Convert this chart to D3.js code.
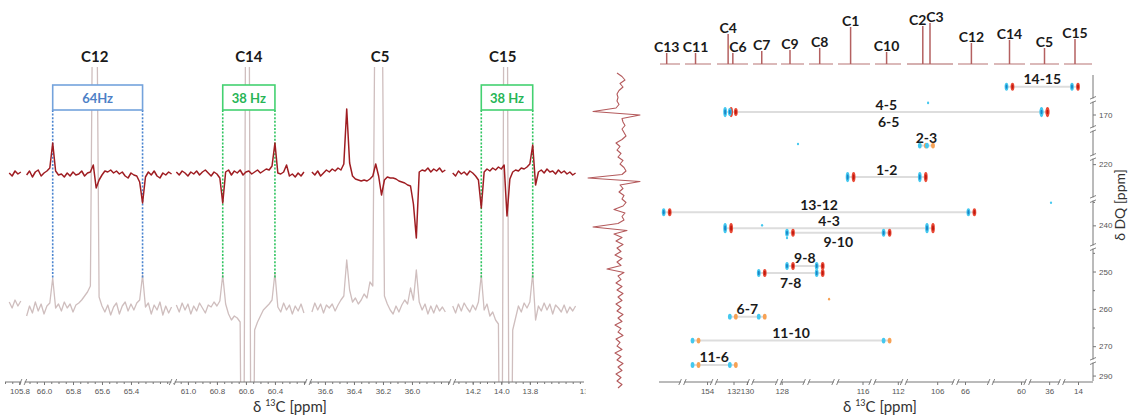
<!DOCTYPE html>
<html>
<head>
<meta charset="utf-8">
<title>13C INADEQUATE</title>
<script src="https://cdn.jsdelivr.net/npm/d3@7/dist/d3.min.js"></script>
<style>
  html, body { margin: 0; padding: 0; background: #fff; }
  svg { display: block; }
  text { font-family: Lato, "Open Sans", "Liberation Sans", sans-serif; }
  .tick text { font-size: 8px; fill: #555; font-family: "Liberation Sans", Arial, sans-serif; }
  .tick line { stroke: #777; }
</style>
</head>
<body>
<svg id="chart" width="1132" height="417"></svg>
<script>
// ================= data =================

// ---- left panel: 1D slices on a broken 13C axis ----
const pointStep = 0.02;   // ppm between trace samples
const sliceDomains = [[105.9, 105.776], [66.145, 65.11], [61.103, 60.172], [36.717, 35.724], [14.345, 13.421]];
const sliceTickLabels = [[105.8], [66.0, 65.8, 65.6, 65.4], [61.0, 60.8, 60.6, 60.4], [36.6, 36.4, 36.2, 36.0], [14.2, 14.0, 13.8, 13.4]];
const traceStartPpm = [66.24, 61.08, 36.69, 14.34];   // first sample of windows 1..4

// INADEQUATE slice (dark red)
const sliceC12 = [1,-2,3,0,2,null,-1,3,-3,2, 4,-2,1,3,6,31,3,-1,0,-3, 1,-2,2,-1,0,3,-2,1,2,9,
  -14,-6,-1,3,2,4,1,3,0,2, -2,-4,1,-1,-2,-8,-29,-3,2,-1, 3,-2,-4,1,-1,2,0];
const sliceC14 = [2,-1,3,1,-2,2,0,3,-1,2, 4,1,-2,2,0,-4,-29,2,4,-1, 3,1,4,-1,2,3,0,2,4,1,
  3,5,4,8,31,1,0,2,9,-2, 0,-3,1,-2,2];
const sliceC5 = [2,-1,3,-2,1,4,2,5,3,6, 4,10,65,11,-2,-5,-6,-7,-6,-7, -5,-2,10,-2,-21,-6,-3,-4,-4,-5,
  -7,-8,-9,-11,-12,-30,-64,2,4,3, 6,2,5,3,6,2,4];
const sliceC15 = [1,-2,3,0,2,-1,3,1,-2,-6, -34,2,5,3,6,4,7,5,9,-42, -5,2,4,3,6,5,7,10,29,-11,
  2,4,1,5,2,3,0,4,1,3, 0,2,-1,1];

// reference 13C spectrum (grey)
const refC12 = [6,0,8,2,7,null,-8,2,-5,6, -3,4,-6,2,5,30,0,4,-3,6, 0,4,-4,3,5,8,12,16,22,400,
  400,11,2,-4,3,-7,1,5,-6,2, 6,-3,4,-2,5,8,33,1,5,-6, 3,-2,6,-7,2,-5,1];
const refC14 = [3,-4,5,-2,4,-6,2,-3,5,0, -5,3,1,6,2,7,33,4,-6,-12, -8,-10,-14,-400,400,400,-400,-22,-14,-8,
  -2,1,4,8,35,1,-4,5,-2,3, -6,2,-3,4,-5];
const refC5 = [-4,5,-2,4,-5,3,0,4,-3,3, 8,12,48,18,6,10,4,8,14,10, 26,22,400,400,400,12,4,-2,-6,2,
  -4,3,8,4,20,8,38,6,-2,4, -6,2,-5,3,-3,1,-4];
const refC15 = [2,-5,4,-3,5,0,-4,3,-2,6, 33,-2,4,-8,-4,-12,-16,-400,400,400, -400,-22,-10,2,-4,5,0,6,35,-12,
  2,-3,5,-2,4,-6,3,0,-4,3, -5,1,-3,2];

const sliceCarbons = ["C12", "C14", "C5", "C15"];
const sliceCarbonPpm = [65.65, 60.58, 36.22, 13.99];
const sliceCarbonWindow = [1, 2, 3, 4];

const couplingText = ["64Hz", "38 Hz", "38 Hz"];
const couplingPpm = [[65.94, 65.32], [60.76, 60.40], [14.14, 13.78]];
const couplingWindow = [1, 2, 4];
const couplingHue = ["blue", "green", "green"];

// DQ projection shown between the panels
const dqProjection = [-3,2,5,0,3,-1,-3,-2,-3,-1, -4,-27,20,2,3,5,2,4,6,2, -4,0,-3,1,-2,3,0,4,6,2,
  -32,20,0,3,-1,4,2,6,3,-6, 5,2,4,-2,-27,7,-6,2,-4,3, -3,1,-5,2,-3,1,-13,4,-2,1,
  -4,2,-3,3,-2,2,-4,1,-3,3, -2,2,-5,1,-2,3,-4,0,-3,2, -5,1,-3,3,-2,2,-4,1,-3,2, -2];

// ---- right panel: 2D INADEQUATE ----
const carbons = ["C13","C11","C4","C6","C7","C9","C8","C1","C10","C2","C3","C12","C14","C5","C15"];
const carbonShift = [171.6,154.7,132.8,132.1,130.6,127.5,121.6,116.7,112.8,106.6,106.3,65.6,60.7,36.3,14.2];
const carbonWindow = [0,1,2,2,3,4,5,6,7,8,8,9,10,11,12];
const carbonIntensity = [11,11,30,11,13,14,16,37,12,38,41,21,24,16,25];

const shiftDomains = [[172.3,170.3],[155.4,153.7],[134.6,129.7],[131.2,129.6],[128.1,126.6],[122.5,120.5],
  [117.5,115.5],[113.7,111.7],[107.3,105.3],[66.5,64.5],[61.7,59.7],[37.3,35.3],[15,13]];
const shiftTickLabels = [[],[154],[132,130],[],[128],[],[116],[112],[106],[66],[60],[36],[14]];

const dqDomains = [[68,82],[165,175],[209,217],[218.3,229.4],[234.6,244.4],[243.7,273.7],[285,292]];
const dqTickLabels = [[],[170],[],[220],[240],[250,260,270],[290]];
const dqMinorTicks = [[],[],[],[],[235],[245,255,265],[]];

const pairs = [["C14","C15"],["C4","C5"],["C6","C5"],["C2","C3"],["C1","C2"],["C13","C12"],["C4","C3"],
  ["C9","C10"],["C9","C8"],["C7","C8"],["C6","C7"],["C11","C10"],["C11","C6"]];
const pairDQ = [74.8,169.1,169.1,213.8,223.6,237.2,240.6,241.6,248.5,250.4,262.1,268.5,286.1];
const pairLabelSide = ["above","above","below","above","above","above","above","below","above","below","above","above","above"];
const pairStrength = [2,3,2,1,3,2,3,2,2,2,1,1,1];

const speckShift = [127.02,106.38,35.88,130.58,127.68,120.88];
const speckWindow = [4,8,11,3,4,5];
const speckDQ = [213.3,165.7,235.2,240.0,242.7,257.4];
const speckTone = ["cyan","cyan","cyan","cyan","cyan","orange"];

// ================= drawing =================
const svg = d3.select("#chart");
const AX_Y = 382;
const defs = svg.append("defs");

// ---------- left panel ----------
const sliceRanges = [[5, 23], [23, 173], [173, 308], [308, 452], [452, 584]];
const sx = sliceDomains.map((d, i) => d3.scaleLinear().domain(d).range(sliceRanges[i]));
const ySlice = d3.scaleLinear().domain([0, 100]).range([174, 74]);
const yRef = d3.scaleLinear().domain([0, 100]).range([308, 208]);

defs.append("clipPath").attr("id", "refClip").append("rect")
  .attr("x", 0).attr("y", 67).attr("width", 590).attr("height", AX_Y - 67);
defs.append("clipPath").attr("id", "leftAxisClip").append("rect")
  .attr("x", 0).attr("y", 300).attr("width", 585.5).attr("height", 117);

const pts = (vals, w) => vals.map((v, i) => ({ ppm: traceStartPpm[w] - pointStep * i, v }));

// reference spectrum
const gRef = svg.append("g").attr("clip-path", "url(#refClip)");
[refC12, refC14, refC5, refC15].forEach((vals, w) => {
  const scale = sx[w + 1];
  gRef.append("path").datum(pts(vals, w))
    .attr("fill", "none").attr("stroke", "#cfbebe").attr("stroke-width", 1.3)
    .attr("stroke-linejoin", "round")
    .attr("d", d3.line().defined(d => d.v !== null).x(d => scale(d.ppm)).y(d => yRef(d.v)));
});

// coupling boxes and guide lines
const hue = {
  blue:  { stroke: "#74a3dc", text: "#4d80c6", dash: "#4a84cf" },
  green: { stroke: "#44d171", text: "#27b556", dash: "#2ec45f" }
};
const BOX_TOP = 85, BOX_H = 25;
couplingPpm.forEach((pp, k) => {
  const s = sx[couplingWindow[k]], c = hue[couplingHue[k]];
  const x0 = s(pp[0]), x1 = s(pp[1]);
  [x0, x1].forEach(x => {
    svg.append("line").attr("x1", x).attr("x2", x)
      .attr("y1", BOX_TOP + BOX_H).attr("y2", yRef(30))
      .attr("stroke", c.dash).attr("stroke-width", 1.6).attr("stroke-dasharray", "2,1.6");
  });
  svg.append("rect").attr("x", x0).attr("y", BOX_TOP).attr("width", x1 - x0).attr("height", BOX_H)
    .attr("fill", "#fff").attr("stroke", c.stroke).attr("stroke-width", 1.6);
  svg.append("text").attr("x", (x0 + x1) / 2).attr("y", BOX_TOP + BOX_H / 2 + 0.5)
    .attr("text-anchor", "middle").attr("dominant-baseline", "central")
    .attr("font-size", 13).attr("font-weight", 700).attr("fill", c.text).text(couplingText[k]);
});

// INADEQUATE slices
[sliceC12, sliceC14, sliceC5, sliceC15].forEach((vals, w) => {
  const scale = sx[w + 1];
  svg.append("path").datum(pts(vals, w))
    .attr("fill", "none").attr("stroke", "#9f1d22").attr("stroke-width", 1.5)
    .attr("stroke-linejoin", "round")
    .attr("d", d3.line().defined(d => d.v !== null).x(d => scale(d.ppm)).y(d => ySlice(d.v)));
});

// carbon labels
sliceCarbons.forEach((c, k) => {
  svg.append("text").attr("x", sx[sliceCarbonWindow[k]](sliceCarbonPpm[k])).attr("y", 62)
    .attr("text-anchor", "middle").attr("font-size", 15).attr("font-weight", 700)
    .attr("fill", "#1a1a1a").text(c);
});

// broken-axis helpers
function hBreak(g, x, y) {
  g.append("line").attr("x1", x - 1.6).attr("x2", x + 1.6).attr("y1", y).attr("y2", y)
    .attr("stroke", "#fff").attr("stroke-width", 2);
  [-2.4, 2.4].forEach(o => g.append("line")
    .attr("x1", x + o - 1.3).attr("y1", y + 3).attr("x2", x + o + 1.3).attr("y2", y - 3)
    .attr("stroke", "#777").attr("stroke-width", 0.9));
}
function vBreak(g, x, y) {
  g.append("line").attr("x1", x).attr("x2", x).attr("y1", y - 1.6).attr("y2", y + 1.6)
    .attr("stroke", "#fff").attr("stroke-width", 2);
  [-2.2, 2.2].forEach(o => g.append("line")
    .attr("x1", x - 3).attr("y1", y + o + 1.3).attr("x2", x + 3).attr("y2", y + o - 1.3)
    .attr("stroke", "#777").attr("stroke-width", 0.9));
}
function minorCount(s) { const d = s.domain(); return Math.max(2, Math.round(Math.abs(d[0] - d[1]) / 0.05)); }

const gLeftAxis = svg.append("g").attr("clip-path", "url(#leftAxisClip)");
gLeftAxis.append("line").attr("x1", sliceRanges[0][0]).attr("x2", sliceRanges[4][1])
  .attr("y1", AX_Y).attr("y2", AX_Y).attr("stroke", "#777").attr("stroke-width", 1);
sx.forEach((s, i) => {
  const minor = gLeftAxis.append("g").attr("transform", `translate(0,${AX_Y})`)
    .call(d3.axisBottom(s).tickValues(s.ticks(minorCount(s))).tickSize(2).tickFormat(""));
  minor.select(".domain").remove();
  const major = gLeftAxis.append("g").attr("transform", `translate(0,${AX_Y})`)
    .call(d3.axisBottom(s).tickValues(sliceTickLabels[i]).tickSize(3).tickPadding(3).tickFormat(d3.format(".1f")));
  major.select(".domain").remove();
  if (i > 0) hBreak(gLeftAxis, sliceRanges[i][0], AX_Y);
});

function carbonTitle(x, y) {
  const t = svg.append("text").attr("x", x).attr("y", y).attr("text-anchor", "middle")
    .attr("font-size", 15).attr("fill", "#333");
  t.append("tspan").text("δ ");
  t.append("tspan").attr("font-size", 9).attr("dy", -6).text("13");
  t.append("tspan").attr("dy", 6).text("C [ppm]");
}
carbonTitle(290, 412);

// ---------- DQ projection ----------
const yProj = d3.scaleLinear().domain([0, dqProjection.length - 1]).range([73, 388]);
const xProj = d3.scaleLinear().domain([0, 10]).range([620, 630]);
svg.append("path").datum(dqProjection)
  .attr("fill", "none").attr("stroke", "#b45a5c").attr("stroke-width", 1.1).attr("stroke-linejoin", "round")
  .attr("d", d3.line().x(d => xProj(d)).y((d, i) => yProj(i)));

// ---------- right panel ----------
const shiftRanges = [[659,681],[684,712],[716,749],[752,778],[780,805],[808,834],[837,871],[874,902],
  [906,954],[957,989],[993,1026],[1029,1060],[1063,1093]];
const rx = shiftDomains.map((d, i) => d3.scaleLinear().domain(d).range(shiftRanges[i]));
const dqRanges = [[75,99],[101,128],[130,156],[158,198],[200,246],[248,360],[362,381]];
const ry = dqDomains.map((d, i) => d3.scaleLinear().domain(d).range(dqRanges[i]));
const dqY = v => { const i = dqDomains.findIndex(d => v >= d[0] && v <= d[1]); return ry[i](v); };
const carbonX = name => { const k = carbons.indexOf(name); return rx[carbonWindow[k]](carbonShift[k]); };

// top 1D projection (stick spectrum)
const yStick = d3.scaleLinear().domain([0, 45]).range([64, 19]);
const gTop = svg.append("g");
shiftRanges.forEach(r => gTop.append("line").attr("x1", r[0] + 1).attr("x2", r[1] - 1)
  .attr("y1", yStick(0)).attr("y2", yStick(0)).attr("stroke", "#c79494").attr("stroke-width", 1.3));
const labelNudge = { C6: 5, C2: -5, C3: 5 };
carbons.forEach((c, k) => {
  const x = carbonX(c);
  gTop.append("line").attr("x1", x).attr("x2", x).attr("y1", yStick(0)).attr("y2", yStick(carbonIntensity[k]))
    .attr("stroke", "#b46060").attr("stroke-width", 1.5);
  gTop.append("text").attr("x", x + (labelNudge[c] || 0)).attr("y", yStick(carbonIntensity[k]) - 1)
    .attr("text-anchor", "middle").attr("font-size", 14).attr("font-weight", 700)
    .attr("fill", "#1a1a1a").text(c);
});

// correlation rows
const tones = {
  cyan:   { outer: "#44c8ef", core: "#1a86c8" },
  red:    { outer: "#e94a36", core: "#c01a10" },
  orange: { outer: "#f7a255", core: "#e36c1c" }
};
function dot(g, x, y, tone, s) {
  const t = tones[tone], h = 1.8 + 1.1 * s;
  g.append("ellipse").attr("cx", x).attr("cy", y).attr("rx", 1.9).attr("ry", h).attr("fill", t.outer);
  if (s >= 2) g.append("ellipse").attr("cx", x).attr("cy", y).attr("rx", 1.0).attr("ry", h * 0.55).attr("fill", t.core);
}
const gRows = svg.append("g");
const gDots = svg.append("g");
pairs.forEach((p, k) => {
  const y = dqY(pairDQ[k]);
  const xa = carbonX(p[0]), xb = carbonX(p[1]);
  const lo = Math.min(xa, xb), hi = Math.max(xa, xb);
  gRows.append("line").attr("x1", lo - 3).attr("x2", hi + 3).attr("y1", y).attr("y2", y)
    .attr("stroke", "#dddddd").attr("stroke-width", 2);
  const s = pairStrength[k];
  [xa, xb].forEach(x => {
    dot(gDots, x - 3, y, "cyan", s);
    dot(gDots, x + 3, y, s >= 2 ? "red" : "orange", s);
  });
  gRows.append("text").attr("x", (xa + xb) / 2)
    .attr("y", y + (pairLabelSide[k] === "above" ? -8 : 9))
    .attr("text-anchor", "middle").attr("dominant-baseline", "central")
    .attr("font-size", 14).attr("font-weight", 700).attr("fill", "#1a1a1a")
    .text(p[0].slice(1) + "-" + p[1].slice(1));
});
speckShift.forEach((v, k) => {
  gDots.append("ellipse").attr("cx", rx[speckWindow[k]](v)).attr("cy", dqY(speckDQ[k]))
    .attr("rx", 1.1).attr("ry", 1.3).attr("fill", tones[speckTone[k]].outer);
});

// bottom shift axis
const gRX = svg.append("g");
gRX.append("line").attr("x1", shiftRanges[0][0]).attr("x2", shiftRanges[12][1])
  .attr("y1", AX_Y).attr("y2", AX_Y).attr("stroke", "#777");
rx.forEach((s, i) => {
  const a = gRX.append("g").attr("transform", `translate(0,${AX_Y})`)
    .call(d3.axisBottom(s).tickValues(shiftTickLabels[i]).tickSize(3).tickPadding(3).tickFormat(d3.format("d")));
  a.select(".domain").remove();
  if (i > 0) hBreak(gRX, (shiftRanges[i - 1][1] + shiftRanges[i][0]) / 2, AX_Y);
});
carbonTitle(880, 412);

// DQ axis
const AX_X = 1093;
const gRY = svg.append("g");
gRY.append("line").attr("x1", AX_X).attr("x2", AX_X).attr("y1", dqRanges[0][0]).attr("y2", dqRanges[6][1])
  .attr("stroke", "#777");
ry.forEach((s, i) => {
  const m = gRY.append("g").attr("transform", `translate(${AX_X},0)`)
    .call(d3.axisRight(s).tickValues(dqMinorTicks[i]).tickSize(2).tickFormat(""));
  m.select(".domain").remove();
  const a = gRY.append("g").attr("transform", `translate(${AX_X},0)`)
    .call(d3.axisRight(s).tickValues(dqTickLabels[i]).tickSize(3).tickPadding(3).tickFormat(d3.format("d")));
  a.select(".domain").remove();
  if (i > 0) vBreak(gRY, AX_X, (dqRanges[i - 1][1] + dqRanges[i][0]) / 2);
});
svg.append("text").attr("transform", "translate(1125,205) rotate(-90)")
  .attr("text-anchor", "middle").attr("font-size", 14).attr("fill", "#333").text("δ DQ [ppm]");
</script>
</body>
</html>
